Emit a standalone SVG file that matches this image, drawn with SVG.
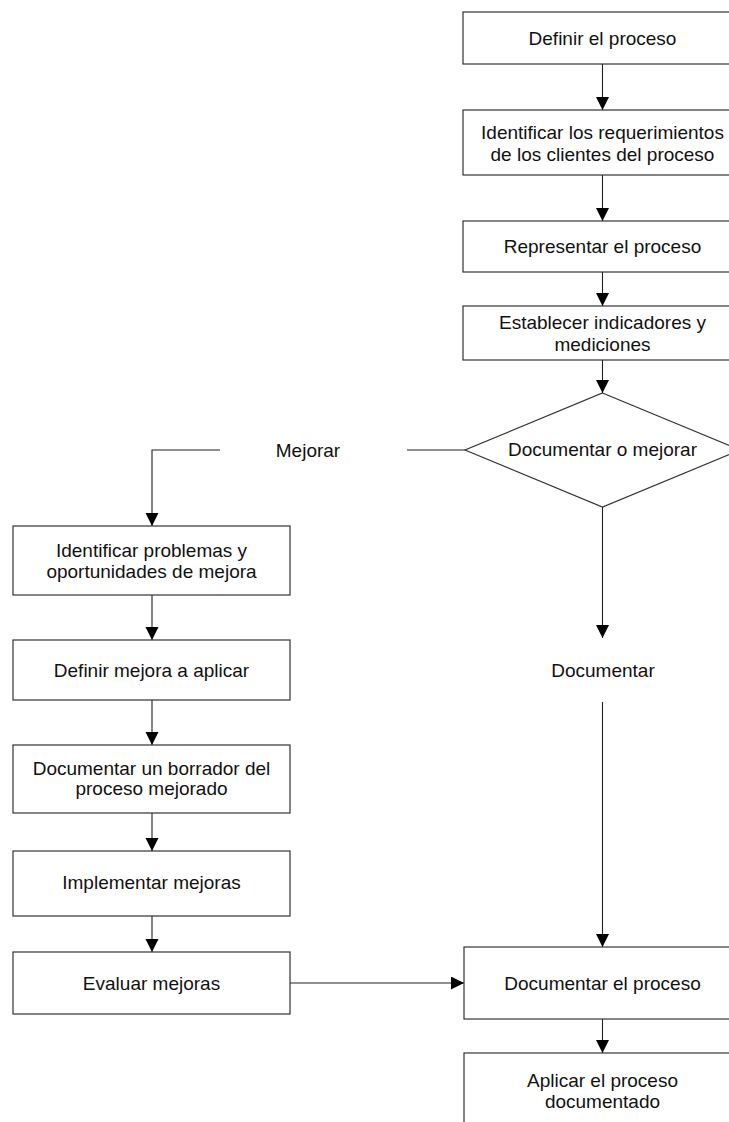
<svg xmlns="http://www.w3.org/2000/svg" width="729" height="1122" viewBox="0 0 729 1122">
  <style>
    .box { fill: #ffffff; stroke: #333333; stroke-width: 1.2; }
    .line { fill: none; stroke: #222222; stroke-width: 1.1; }
    .arrow { marker-end: url(#head); }
    text { font-family: "Liberation Sans", Arial, sans-serif; font-size: 19px; fill: #111111; text-anchor: middle; }
  </style>
  <defs>
    <marker id="head" markerUnits="userSpaceOnUse" markerWidth="14" markerHeight="14" refX="13" refY="6.5" orient="auto">
      <path d="M0,0 L13,6.5 L0,13 Z" fill="#000000"/>
    </marker>
  </defs>
  <rect width="729" height="1122" fill="#ffffff"/>

  <g id="connectors">
    <path class="line arrow" d="M602.5,64 V110"/>
    <path class="line arrow" d="M602.5,175 V221"/>
    <path class="line arrow" d="M602.5,272 V306"/>
    <path class="line arrow" d="M602.5,360 V393"/>
    <path class="line" d="M465,450 H407"/>
    <path class="line arrow" d="M220,450 H152 V526"/>
    <path class="line arrow" d="M152,595 V640"/>
    <path class="line arrow" d="M152,700 V745"/>
    <path class="line arrow" d="M152,813 V851"/>
    <path class="line arrow" d="M152,916 V952"/>
    <path class="line arrow" d="M290,983 H464"/>
    <path class="line arrow" d="M602.5,507 V638"/>
    <path class="line arrow" d="M602.5,702 V947"/>
    <path class="line arrow" d="M602.5,1019 V1053"/>
    <text x="308" y="457">Mejorar</text>
    <text x="603" y="677">Documentar</text>
  </g>

  <g id="definir-proceso">
    <rect class="box" x="463" y="12" width="279" height="52"/>
    <text x="602.5" y="45">Definir el proceso</text>
  </g>
  <g id="requerimientos">
    <rect class="box" x="463" y="110" width="279" height="65"/>
    <text x="602.5" y="139">Identificar los requerimientos</text>
    <text x="602.5" y="161">de los clientes del proceso</text>
  </g>
  <g id="representar">
    <rect class="box" x="463" y="221" width="279" height="51"/>
    <text x="602.5" y="253">Representar el proceso</text>
  </g>
  <g id="indicadores">
    <rect class="box" x="463" y="306" width="279" height="54"/>
    <text x="602.5" y="329">Establecer indicadores y</text>
    <text x="602.5" y="351">mediciones</text>
  </g>
  <g id="decision">
    <polygon class="box" points="602.5,393 740,450 602.5,507 465,450"/>
    <text x="602.5" y="456">Documentar o mejorar</text>
  </g>

  <g id="problemas">
    <rect class="box" x="13" y="526" width="277" height="69"/>
    <text x="151.5" y="557">Identificar problemas y</text>
    <text x="151.5" y="578">oportunidades de mejora</text>
  </g>
  <g id="definir-mejora">
    <rect class="box" x="13" y="640" width="277" height="60"/>
    <text x="151.5" y="677">Definir mejora a aplicar</text>
  </g>
  <g id="borrador">
    <rect class="box" x="13" y="745" width="277" height="68"/>
    <text x="151.5" y="775">Documentar un borrador del</text>
    <text x="151.5" y="795">proceso mejorado</text>
  </g>
  <g id="implementar">
    <rect class="box" x="13" y="851" width="277" height="65"/>
    <text x="151.5" y="889">Implementar mejoras</text>
  </g>
  <g id="evaluar">
    <rect class="box" x="13" y="952" width="277" height="62"/>
    <text x="151.5" y="990">Evaluar mejoras</text>
  </g>

  <g id="documentar-proceso">
    <rect class="box" x="464" y="947" width="278" height="72"/>
    <text x="602.5" y="990">Documentar el proceso</text>
  </g>
  <g id="aplicar">
    <rect class="box" x="464" y="1053" width="278" height="80"/>
    <text x="602.5" y="1087">Aplicar el proceso</text>
    <text x="602.5" y="1108">documentado</text>
  </g>
</svg>
